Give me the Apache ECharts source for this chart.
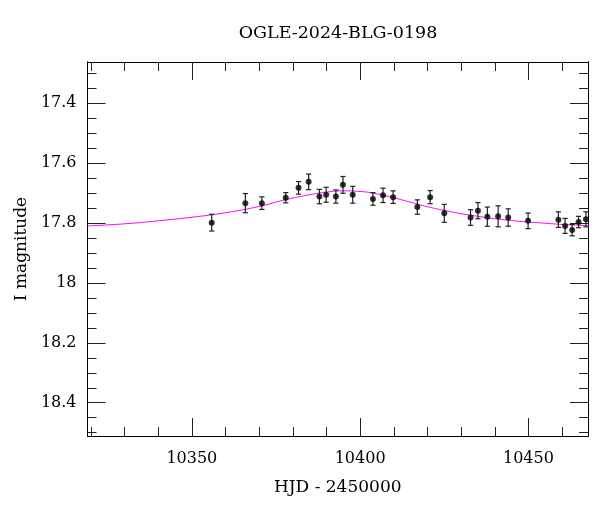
<!DOCTYPE html>
<html>
<head>
<meta charset="utf-8">
<script src="https://cdn.jsdelivr.net/npm/echarts@6/dist/echarts.min.js"></script>
<style>
html,body{margin:0;padding:0;background:#fff;}
#chart{width:600px;height:512px;}
</style>
</head>
<body>
<div id="chart"></div>
<script>
// Observations (HJD - 2450000, I magnitude, error)
const obsHJD = [10355.9, 10365.9, 10370.8, 10377.9, 10381.7, 10384.7, 10387.9, 10389.9, 10392.8, 10394.9, 10397.8, 10403.8, 10406.8, 10409.8, 10417.0, 10420.8, 10425.0, 10432.8, 10435.0, 10437.8, 10441.0, 10444.0, 10449.9, 10458.9, 10460.9, 10463.0, 10464.9, 10467.1];
const obsMag = [17.799, 17.734, 17.734, 17.716, 17.683, 17.663, 17.712, 17.706, 17.712, 17.673, 17.706, 17.720, 17.708, 17.714, 17.747, 17.714, 17.768, 17.782, 17.759, 17.779, 17.778, 17.782, 17.793, 17.789, 17.810, 17.824, 17.797, 17.788];
const obsErr = [0.028, 0.032, 0.021, 0.017, 0.021, 0.026, 0.024, 0.025, 0.022, 0.028, 0.028, 0.021, 0.024, 0.021, 0.024, 0.022, 0.030, 0.026, 0.027, 0.032, 0.035, 0.029, 0.026, 0.026, 0.025, 0.019, 0.019, 0.025];

// Model curve
const modelHJD = [10319, 10330, 10340, 10350, 10360, 10370, 10378, 10385, 10390, 10395, 10400, 10405, 10410, 10415, 10420, 10425, 10430, 10435, 10440, 10445, 10450, 10455, 10460, 10468];
const modelMag = [17.810, 17.803, 17.793, 17.781, 17.766, 17.745, 17.722, 17.706, 17.697, 17.693, 17.695, 17.703, 17.716, 17.731, 17.746, 17.758, 17.769, 17.778, 17.786, 17.792, 17.797, 17.801, 17.805, 17.809];

// Tick positions
const xMajorTicks = [10350, 10400, 10450];
const xMinorTicks = [10320, 10330, 10340, 10360, 10370, 10380, 10390, 10410, 10420, 10430, 10440, 10460];
const yMajorTicks = [17.4, 17.6, 17.8, 18.0, 18.2, 18.4];
const yMinorTicks = [17.3, 17.35, 17.45, 17.5, 17.55, 17.65, 17.7, 17.75, 17.85, 17.9, 17.95, 18.05, 18.1, 18.15, 18.25, 18.3, 18.35, 18.45, 18.5];

const X_MIN = 10319, X_MAX = 10467.7;
const Y_MIN = 17.263, Y_MAX = 18.511;

const FONT = '"DejaVu Serif", "Liberation Serif", serif';
const LINE = { color: '#000', width: 1 };
const TICK = { color: '#222', width: 1 };

function xAxis(pos, ticks, len, labels) {
  return {
    type: 'value', position: pos, min: X_MIN, max: X_MAX, gridIndex: 0,
    axisLine: { show: true, lineStyle: LINE },
    axisTick: { show: true, inside: true, length: len, customValues: ticks, lineStyle: TICK },
    axisLabel: labels ? { show: true, customValues: ticks, fontFamily: FONT, fontSize: 16, color: '#000', margin: 15, formatter: v => String(Math.round(v)) } : { show: false },
    splitLine: { show: false },
    minorTick: { show: false }
  };
}
function yAxis(pos, ticks, len, labels) {
  return {
    type: 'value', position: pos, min: Y_MIN, max: Y_MAX, inverse: true, gridIndex: 0,
    axisLine: { show: true, lineStyle: LINE },
    axisTick: { show: true, inside: true, length: len, customValues: ticks, lineStyle: TICK },
    axisLabel: labels ? { show: true, customValues: ticks, fontFamily: FONT, fontSize: 16, color: '#000', margin: 11, formatter: v => String(parseFloat(Number(v).toFixed(2))) } : { show: false },
    splitLine: { show: false },
    minorTick: { show: false }
  };
}

const xa0 = xAxis('bottom', xMajorTicks, 18, true);
xa0.name = 'HJD - 2450000';
xa0.nameLocation = 'middle';
xa0.nameGap = 43;
xa0.nameTextStyle = { fontFamily: FONT, fontSize: 17, color: '#000' };
const ya0 = yAxis('left', yMajorTicks, 18, true);
ya0.name = 'I magnitude';
ya0.nameLocation = 'middle';
ya0.nameGap = 57;
ya0.nameRotate = 90;
ya0.nameTextStyle = { fontFamily: FONT, fontSize: 17, color: '#000' };

const errData = obsHJD.map((x, i) => [x, obsMag[i], obsErr[i]]);
const ptData = obsHJD.map((x, i) => [x, obsMag[i]]);
const modelData = modelHJD.map((x, i) => [x, modelMag[i]]);

function renderErr(params, api) {
  const x = api.value(0), y = api.value(1), e = api.value(2);
  const p1 = api.coord([x, y - e]);
  const p2 = api.coord([x, y + e]);
  const w = 2.6;
  const style = { stroke: '#222', lineWidth: 1.2, fill: null };
  return {
    type: 'group',
    children: [
      { type: 'line', shape: { x1: p1[0], y1: p1[1], x2: p2[0], y2: p2[1] }, style: style },
      { type: 'line', shape: { x1: p1[0] - w, y1: p1[1], x2: p1[0] + w, y2: p1[1] }, style: style },
      { type: 'line', shape: { x1: p2[0] - w, y1: p2[1], x2: p2[0] + w, y2: p2[1] }, style: style }
    ]
  };
}

const chart = echarts.init(document.getElementById('chart'), null, { renderer: 'canvas' });
chart.setOption({
  backgroundColor: '#fff',
  animation: false,
  title: {
    text: 'OGLE-2024-BLG-0198',
    left: 338, top: 24, textAlign: 'center', padding: 0,
    textStyle: { fontFamily: FONT, fontSize: 17.5, fontWeight: 'normal', color: '#000' }
  },
  grid: { left: 87.5, right: 12, top: 62, bottom: 76, containLabel: false },
  xAxis: [
    xa0,
    xAxis('top', xMajorTicks, 18, false),
    xAxis('bottom', xMinorTicks, 9, false),
    xAxis('top', xMinorTicks, 9, false)
  ],
  yAxis: [
    ya0,
    yAxis('right', yMajorTicks, 18, false),
    yAxis('left', yMinorTicks, 9, false),
    yAxis('right', yMinorTicks, 9, false)
  ],
  series: [
    {
      type: 'line', data: modelData, xAxisIndex: 0, yAxisIndex: 0,
      smooth: true, showSymbol: false, symbol: 'none',
      lineStyle: { color: '#ff00ff', width: 1 }, z: 2
    },
    {
      type: 'custom', data: errData, xAxisIndex: 0, yAxisIndex: 0,
      renderItem: renderErr, encode: { x: 0, y: 1 }, z: 3
    },
    {
      type: 'scatter', data: ptData, xAxisIndex: 0, yAxisIndex: 0,
      symbol: 'circle', symbolSize: 6,
      itemStyle: { color: '#000' }, z: 4
    }
  ]
});
</script>
</body>
</html>
